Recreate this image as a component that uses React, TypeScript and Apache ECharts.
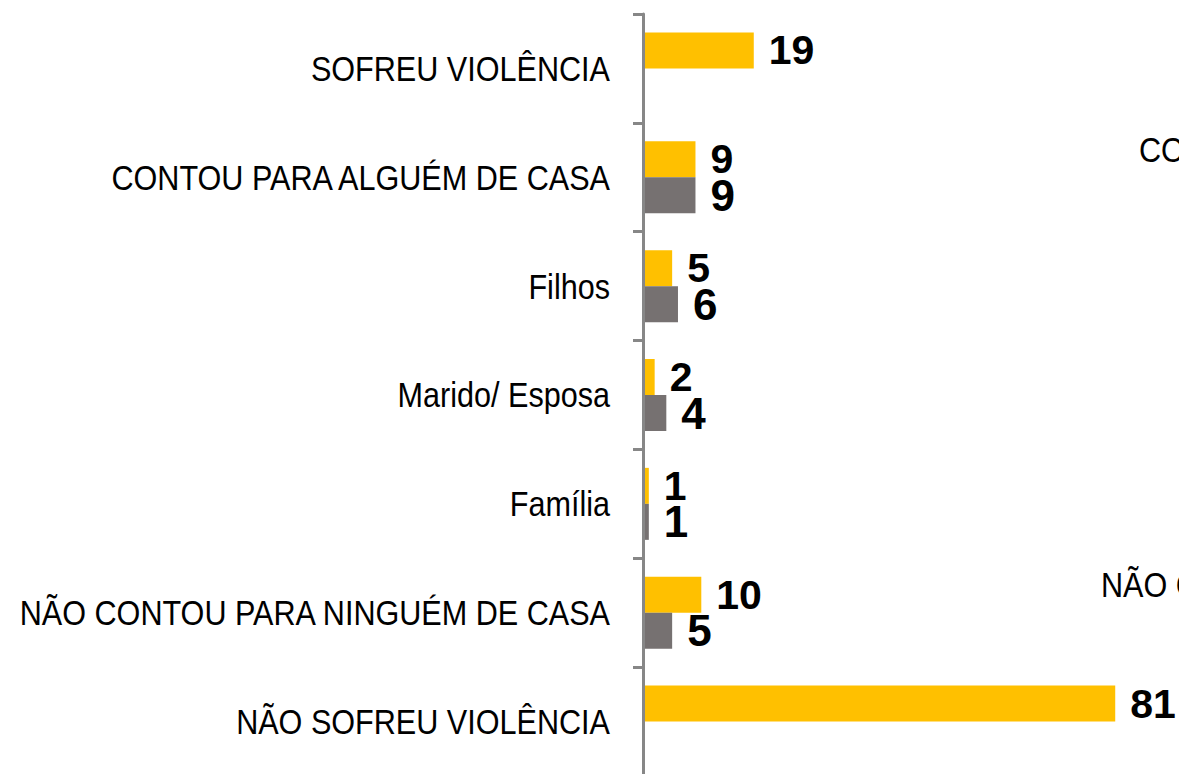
import React, { useEffect, useRef } from "react";
import * as echarts from "echarts";

const categories = [
  "SOFREU VIOLÊNCIA",
  "CONTOU PARA ALGUÉM DE CASA",
  "Filhos",
  "Marido/ Esposa",
  "Família",
  "NÃO CONTOU PARA NINGUÉM DE CASA",
  "NÃO SOFREU VIOLÊNCIA",
];
const seriesA = [19, 9, 5, 2, 1, 10, 81];
const seriesB: (number | null)[] = [null, 9, 6, 4, 1, 5, null];
const sideTexts = [
  { text: "CONTOU PARA ALGUÉM DE CASA", x: 1139, y: 150 },
  { text: "NÃO CONTOU PARA NINGUÉM DE CASA", x: 1101, y: 585 },
];

export default function App() {
  const ref = useRef<HTMLDivElement>(null);
  useEffect(() => {
    if (!ref.current) return;
    const chart = echarts.init(ref.current, undefined, { renderer: "svg" });
    const font = "'Liberation Sans', Arial, sans-serif";
    const narrow = 0.85;
    chart.setOption({
      animation: false,
      grid: {
        left: 643,
        top: 14,
        width: 524.7,
        height: 762,
        containLabel: false,
        outerBoundsMode: "none",
      },
      xAxis: {
        type: "value",
        min: 0,
        max: 90,
        show: false,
        splitLine: { show: false },
      },
      yAxis: {
        type: "category",
        data: categories,
        inverse: true,
        z: 5,
        axisLine: { show: true, lineStyle: { color: "#878787", width: 3 } },
        axisTick: { show: true, length: 10, lineStyle: { color: "#878787", width: 3 } },
        axisLabel: { show: false },
      },
      series: [
        {
          type: "bar",
          data: seriesA,
          barWidth: 36,
          barGap: "0%",
          itemStyle: { color: "#FFC000" },
          label: {
            show: true,
            position: "right",
            distance: 15,
            color: "#000",
            fontSize: 41,
            fontWeight: "bold",
            fontFamily: font,
          },
        },
        {
          type: "bar",
          data: seriesB,
          barWidth: 36,
          barGap: "0%",
          itemStyle: { color: "#767171" },
          label: {
            show: true,
            position: "right",
            distance: 15,
            color: "#000",
            fontSize: 44,
            fontWeight: "bold",
            fontFamily: font,
          },
        },
      ],
    });
    const labelX = (chart.convertToPixel({ xAxisIndex: 0 }, 0) as number) - 33;
    const graphics: any[] = categories.map((c) => ({
      type: "text",
      x: labelX,
      y: chart.convertToPixel({ yAxisIndex: 0 }, c) as number,
      scaleX: narrow,
      style: {
        text: c,
        fill: "#000",
        fontSize: 36,
        fontFamily: font,
        textAlign: "right",
        textVerticalAlign: "middle",
      },
    }));
    sideTexts.forEach((t) =>
      graphics.push({
        type: "text",
        x: t.x,
        y: t.y,
        scaleX: narrow,
        style: {
          text: t.text,
          fill: "#000",
          fontSize: 36,
          fontFamily: font,
          textAlign: "left",
          textVerticalAlign: "middle",
        },
      })
    );
    chart.setOption({ graphic: graphics });
    return () => chart.dispose();
  }, []);
  return (
    <div
      ref={ref}
      style={{ position: "absolute", left: 0, top: 0, width: 1179, height: 774, background: "#fff" }}
    />
  );
}
